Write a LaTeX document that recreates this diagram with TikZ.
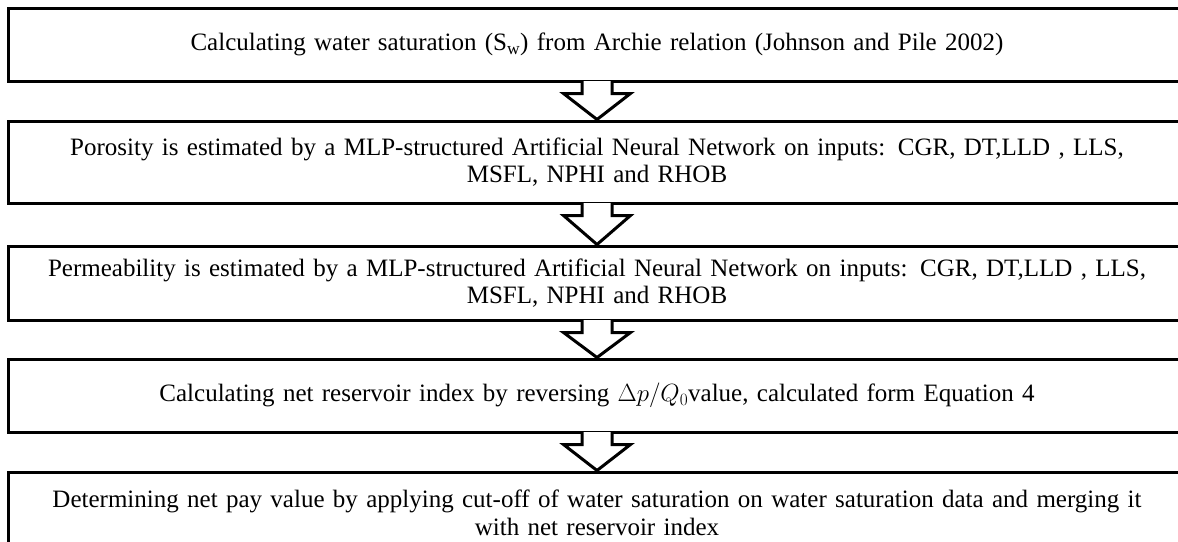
\documentclass[tikz,border=0pt]{standalone}
\usepackage{fontspec}
\setmainfont{Liberation Serif}
\usetikzlibrary{calc}
\begin{document}
\begin{tikzpicture}[x=1pt,y=1pt,
  stepbox/.style={draw, line width=3pt, rectangle, minimum width=1178pt,
    text width=1160pt, align=center, inner sep=0pt,
    font=\fontsize{25}{27.5}\selectfont},
  flowarrow/.style={draw, line width=3pt, fill=white, line join=miter}]
\clip (0,0) rectangle (1178,-541);
\fill[white] (0,0) rectangle (1178,-541);
\node[stepbox, minimum height=73pt] (b1) at (597,-44.5)
  {Calculating water saturation (S\textsubscript{w}) from Archie relation (Johnson and Pile 2002)};
\node[stepbox, minimum height=82pt] (b2) at (597,-162)
  {Porosity is estimated by a MLP-structured Artificial Neural Network on inputs: CGR, DT,LLD , LLS,\hspace*{18pt}\\ MSFL, NPHI and RHOB};
\node[stepbox, minimum height=74pt] (b3) at (597,-283)
  {Permeability is estimated by a MLP-structured Artificial Neural Network on inputs: CGR, DT,LLD , LLS,\hspace*{18pt}\\ MSFL, NPHI and RHOB};
\node[stepbox, minimum height=73pt] (b4) at (597,-395.5)
  {Calculating net reservoir index by reversing $\Delta p/Q_0$value, calculated form Equation 4};
\node[stepbox, minimum height=82pt] (b5) at (597,-513)
  {Determining net pay value by applying cut-off of water saturation on water saturation data and merging it\\ with net reservoir index};
\foreach \a/\b in {b1/b2, b2/b3, b3/b4, b4/b5}{
  \path[flowarrow] ($(\a.south)+(-15,1.5)$) -- ($(\a.south)+(-15,-11)$)
    -- ($(\a.south)+(-33.5,-11)$) -- (\b.north)
    -- ($(\a.south)+(33.5,-11)$) -- ($(\a.south)+(15,-11)$)
    -- ($(\a.south)+(15,1.5)$);
}
\end{tikzpicture}
\end{document}
